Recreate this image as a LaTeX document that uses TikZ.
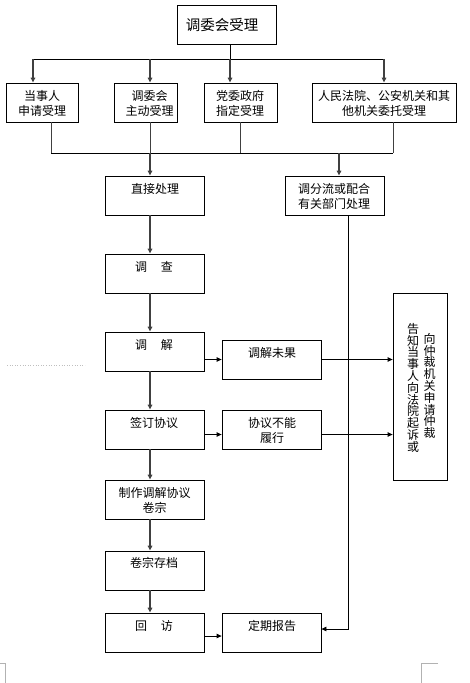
\documentclass[tikz,border=0pt]{standalone}
\usepackage{fontspec}
\newfontfamily\cjk{Noto Sans CJK SC}
\usetikzlibrary{arrows.meta,calc}
\begin{document}
\begin{tikzpicture}[x=1pt,y=-1pt,
  box/.style={draw,line width=0.8pt,inner sep=0pt},
  txt/.style={font=\cjk\fontsize{12}{15}\selectfont,align=center,inner sep=0pt},
  vtxt/.style={font=\cjk\fontsize{12}{11.8}\selectfont,align=center,inner sep=0pt,text width=12pt},
  ln/.style={line width=0.8pt},
  arr/.style={line width=0.8pt,-{Triangle[length=5pt,width=4.5pt]}},
  varr/.style={line width=1.3pt,draw=black!75,-{Triangle[length=5pt,width=4.5pt]}},
  cropmark/.style={draw=gray!60,line width=0.6pt}
]
\useasboundingbox (0,0) rectangle (470,683);

% boxes
\node[box,minimum width=99pt,minimum height=39pt] (top) at (226.5,24.5) {};
\node[box,minimum width=72pt,minimum height=39pt] (a1) at (42,102.5) {};
\node[box,minimum width=63pt,minimum height=39pt] (a2) at (145.5,102.5) {};
\node[box,minimum width=73pt,minimum height=39pt] (a3) at (240.5,102.5) {};
\node[box,minimum width=144pt,minimum height=39pt] (a4) at (384,102.5) {};
\node[box,minimum width=99pt,minimum height=39pt] (zj) at (154.5,195.5) {};
\node[box,minimum width=99pt,minimum height=39pt] (fl) at (334.5,195.5) {};
\node[box,minimum width=99pt,minimum height=39pt] (dc) at (154.5,273.5) {};
\node[box,minimum width=99pt,minimum height=39pt] (tj) at (154.5,351.5) {};
\node[box,minimum width=99pt,minimum height=39pt] (wg) at (271.5,359.5) {};
\node[box,minimum width=99pt,minimum height=39pt] (qd) at (154.5,429.5) {};
\node[box,minimum width=99pt,minimum height=39pt] (bn) at (271.5,429.5) {};
\node[box,minimum width=99pt,minimum height=39pt] (zz) at (154.5,499.5) {};
\node[box,minimum width=99pt,minimum height=39pt] (cd) at (154.5,570.5) {};
\node[box,minimum width=99pt,minimum height=39pt] (hf) at (154.5,632.5) {};
\node[box,minimum width=99pt,minimum height=39pt] (dq) at (271.5,632.5) {};
\node[box,minimum width=54pt,minimum height=187pt] (rb) at (420,386.5) {};

% texts
\node[txt,font=\cjk\fontsize{14.5}{15}\selectfont] (t0) at (222,25) {调委会受理};
\node[txt] (t1) at (42,103.5) {当事人\\申请受理};
\node[txt] (t2) at (149.5,103.5) {调委会\\主动受理};
\node[txt] (t3) at (240,103.5) {党委政府\\指定受理};
\node[txt] (t4) at (384,103.5) {人民法院、公安机关和其\\他机关委托受理};
\node[txt] (t5) at (155,189) {直接处理};
\node[txt] (t6) at (334,196.5) {调分流或配合\\有关部门处理};
\node[txt] (t7) at (154,267) {调\hspace{14pt}查};
\node[txt] (t8) at (154,345) {调\hspace{14pt}解};
\node[txt] (t9) at (272,353) {调解未果};
\node[txt] (t10) at (154,423) {签订协议};
\node[txt] (t11) at (272,430.5) {协议不能\\履行};
\node[txt] (t12) at (154.5,500.5) {制作调解协议\\卷宗};
\node[txt] (t13) at (154,563) {卷宗存档};
\node[txt] (t14) at (154,626) {回\hspace{14pt}访};
\node[txt] (t15) at (272,626) {定期报告};
\node[vtxt,anchor=north] (v1) at (413,323) {告\\知\\当\\事\\人\\向\\法\\院\\起\\诉\\或};
\node[vtxt,anchor=north] (v2) at (429.5,333) {向\\仲\\裁\\机\\关\\申\\请\\仲\\裁};

% junction coordinates
\coordinate (j1) at (230,59);
\coordinate (h1) at (33,59);
\coordinate (h3) at (150,59);
\coordinate (h2) at (384,59);
\coordinate (m1) at (51,153);
\coordinate (m2) at (150,153);
\coordinate (m3) at (240,153);
\coordinate (m4) at (393,153);
\coordinate (m5) at (339,153);
\coordinate (r1) at (348,629);

% top fan-out
\draw[ln] (top.south -| j1) -- (j1);
\draw[ln] (h1) -- (h2);
\draw[varr] (h1) -- (a1.north -| h1);
\draw[varr] (h3) -- (a2.north -| h3);
\draw[varr] (j1) -- (a3.north -| j1);
\draw[varr] (h2) -- (a4.north -| h2);

% merge
\draw[ln,draw=black!75] (a1.south -| m1) -- (m1);
\draw[ln,draw=black!75] (a2.south -| m2) -- (m2);
\draw[ln,draw=black!75] (a3.south -| m3) -- (m3);
\draw[ln,draw=black!75] (a4.south -| m4) -- (m4);
\draw[ln] (m1) -- (m4);
\draw[varr] (m2) -- (zj.north -| m2);
\draw[varr] (m5) -- (fl.north -| m5);

% main column
\draw[varr] (zj.south -| m2) -- (dc.north -| m2);
\draw[varr] (dc.south -| m2) -- (tj.north -| m2);
\draw[varr] (tj.south -| m2) -- (qd.north -| m2);
\draw[varr] (qd.south -| m2) -- (zz.north -| m2);
\draw[varr] (zz.south -| m2) -- (cd.north -| m2);
\draw[varr] (cd.south -| m2) -- (hf.north -| m2);

% side branches
\draw[arr] (tj.east |- wg.west) -- (wg.west);
\draw[arr] (wg.east) -- (rb.west |- wg.east);
\draw[arr] ([yshift=-5pt]qd.east) -- ([yshift=-5pt]bn.west);
\draw[arr] ([yshift=-5pt]bn.east) -- ([yshift=-5pt]bn.east -| rb.west);
\draw[arr] ([yshift=-3.5pt]hf.east) -- ([yshift=-3.5pt]dq.west);
\draw[arr] (fl.south -| r1) -- (r1) -- (r1 -| dq.east);

% page artefacts
\draw[cropmark] (0,663) -- (5,663) -- (5,683);
\draw[cropmark] (438,663) -- (421.7,663) -- (421.7,683);
\draw[gray!50,dotted,line width=0.6pt] (7,365) -- (85,365);
\end{tikzpicture}
\end{document}
